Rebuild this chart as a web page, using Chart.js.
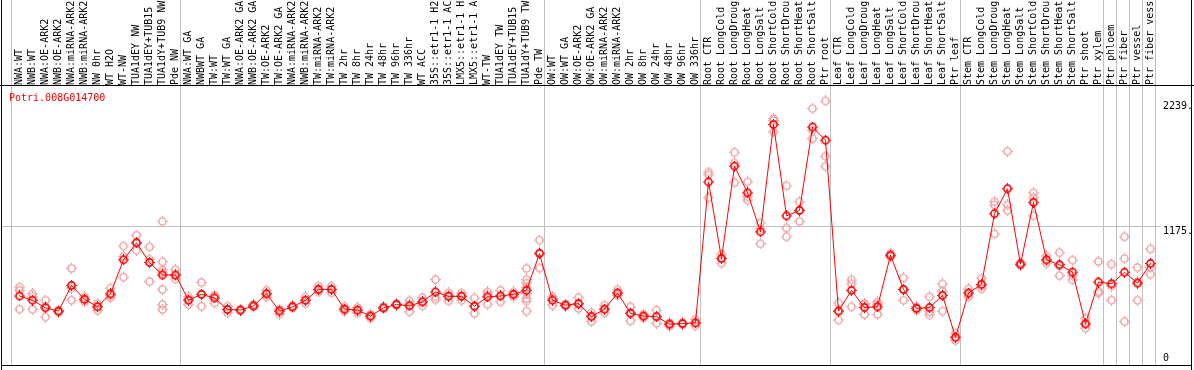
<!DOCTYPE html>
<html>
<head>
<meta charset="utf-8">
<title>Potri.008G014700</title>
<script src="https://cdn.jsdelivr.net/npm/chart.js@4.4.1/dist/chart.umd.min.js"></script>
<style>
  html, body { margin: 0; padding: 0; background: #fff; overflow: hidden; }
  #wrap { width: 1194px; height: 370px; }
</style>
</head>
<body>
<div id="wrap"><canvas id="exprChart" width="1194" height="370"></canvas></div>
<script>
// Sample labels (as printed, cut to 14 characters)
const categories = [
    'NWA:WT', 'NWB:WT', 'NWA:OE-ARK2', 'NWB:OE-ARK2', 'NWA:miRNA-ARK2', 'NWB:miRNA-ARK2',
    'NW 0hr', 'WT H2O', 'WT-NW', 'TUA1dEY NW', 'TUA1dEY+TUB15', 'TUA1dY+TUB9 NW', 'Pde NW',
    'NWA:WT GA', 'NWBWT GA', 'TW:WT', 'TW:WT GA', 'NWA:OE-ARK2 GA', 'NWB:OE-ARK2 GA',
    'TW:OE-ARK2', 'TW:OE-ARK2 GA', 'NWA:miRNA-ARK2', 'NWB:miRNA-ARK2', 'TW:miRNA-ARK2',
    'TW:miRNA-ARK2', 'TW 2hr', 'TW 8hr', 'TW 24hr', 'TW 48hr', 'TW 96hr', 'TW 336hr', 'WT ACC',
    '35S::etr1-1 H2', '35S::etr1-1 AC', 'LMX5::etr1-1 H', 'LMX5::etr1-1 A', 'WT-TW',
    'TUA1dEY TW', 'TUA1dEY+TUB15', 'TUA1dY+TUB9 TW', 'Pde TW',
    'OW:WT', 'OW:WT GA', 'OW:OE-ARK2', 'OW:OE-ARK2 GA', 'OW:miRNA-ARK2', 'OW:miRNA-ARK2',
    'OW 2hr', 'OW 8hr', 'OW 24hr', 'OW 48hr', 'OW 96hr', 'OW 336hr',
    'Root CTR', 'Root LongCold', 'Root LongDroug', 'Root LongHeat', 'Root LongSalt',
    'Root ShortCold', 'Root ShortDrou', 'Root ShortHeat', 'Root ShortSalt', 'Ptr root',
    'Leaf CTR', 'Leaf LongCold', 'Leaf LongDroug', 'Leaf LongHeat', 'Leaf LongSalt',
    'Leaf ShortCold', 'Leaf ShortDrou', 'Leaf ShortHeat', 'Leaf ShortSalt', 'Ptr leaf',
    'Stem CTR', 'Stem LongCold', 'Stem LongDroug', 'Stem LongHeat', 'Stem LongSalt',
    'Stem ShortCold', 'Stem ShortDrou', 'Stem ShortHeat', 'Stem ShortSalt', 'Ptr shoot',
    'Ptr xylem', 'Ptr phloem', 'Ptr fiber', 'Ptr vessel', 'Ptr fiber vess'
];

// Mean expression per sample
const means = [
    579, 543, 478, 450, 669, 551, 487, 598, 887, 1032, 864, 758, 758,
    543, 593, 562, 464, 459, 495, 598, 450, 487, 543, 635, 635, 467, 459, 408, 478, 506,
    495, 529, 613, 576, 576, 492, 571, 579, 593, 627, 940,
    543, 501, 514, 403, 467, 604, 431, 408, 403, 339, 344, 350,
    1550, 898, 1684, 1457, 1125, 2039, 1261, 1307, 2017, 1905,
    450, 627, 481, 487, 926, 635, 473, 480, 584, 228,
    604, 678, 1280, 1492, 850, 1376, 887, 845, 782, 342,
    698, 683, 781, 688, 856
];

// Individual replicates per sample
const reps = [
    [655, 627, 467], [598, 571, 467], [543, 490, 400], [440, 455, 455], [814, 646, 543],
    [571, 551, 530], [514, 490, 457], [646, 585, 565], [1004, 915, 739], [1097, 1032, 968],
    [996, 892, 702], [1214, 870, 800, 780, 635, 506, 464], [803, 750, 724],
    [571, 551, 506], [694, 593, 492], [585, 580, 520], [492, 464, 436], [465, 459, 453],
    [506, 492, 487], [627, 598, 571], [467, 459, 425], [495, 487, 478], [571, 543, 514],
    [663, 630, 613], [663, 635, 607], [487, 467, 450], [482, 459, 436], [425, 408, 392],
    [487, 478, 470], [514, 506, 498], [537, 503, 445], [565, 529, 495], [719, 571, 548],
    [607, 585, 537], [604, 580, 543], [562, 492, 431], [613, 590, 509], [627, 580, 529],
    [613, 593, 573], [814, 719, 688, 650, 598, 557, 535, 450], [1055, 948, 817],
    [571, 557, 501], [510, 501, 492], [565, 505, 473], [436, 412, 361], [501, 467, 436],
    [632, 604, 585], [487, 440, 367], [425, 408, 392], [459, 403, 347], [350, 339, 322],
    [350, 344, 338], [378, 350, 325],
    [1634, 1611, 1416], [934, 898, 859], [1802, 1712, 1544], [1550, 1424, 1396],
    [1200, 1150, 1024], [2090, 2073, 1975], [1517, 1158, 1083], [1382, 1310, 1214],
    [2174, 1990, 1919], [2239, 1768, 1684],
    [520, 455, 375], [716, 682, 487], [515, 505, 422], [529, 510, 422], [943, 920, 915],
    [733, 630, 543], [487, 473, 459], [571, 445, 418], [682, 621, 450], [263, 227, 201],
    [640, 604, 571], [730, 665, 640], [1382, 1354, 1108], [1810, 1354, 1307], [864, 845, 840],
    [1457, 1416, 1261], [920, 880, 859], [948, 835, 752], [884, 752, 716], [389, 341, 305],
    [873, 619, 604], [850, 663, 543], [1083, 898, 361], [822, 700, 543], [979, 822, 766]
];

// Where each sample group starts (last entry closes the final group)
const groupStarts = [0, 13, 41, 53, 63, 73, 84, 85, 86, 87, 88];

// Right-hand value labels and the reference line
const axisValues = [0, 1175, 2239];
const axisLabels = ['0', '1175.', '2239.'];
const refLine = 1175;
const geneId = 'Potri.008G014700';

const FONT = '10px "DejaVu Sans Mono"';

// small ring marker with four tiny ticks
function makeMarker(color, width) {
    const c = document.createElement('canvas');
    c.width = 11;
    c.height = 11;
    const g = c.getContext('2d');
    g.strokeStyle = color;
    g.lineWidth = width;
    g.beginPath();
    g.arc(5.5, 5.5, 3.6, 0, Math.PI * 2);
    g.stroke();
    g.fillStyle = color;
    g.fillRect(5, 0, 1, 1);
    g.fillRect(5, 10, 1, 1);
    g.fillRect(0, 5, 1, 1);
    g.fillRect(10, 5, 1, 1);
    return c;
}

const frame = {
    id: 'frame',
    beforeDraw(chart) {
        const { ctx, chartArea, scales } = chart;
        const x = scales.x, y = scales.y;
        ctx.save();
        ctx.fillStyle = '#c0c0c0';
        groupStarts.forEach(function(b) {
            const px = Math.floor(x.getPixelForValue(b - 0.5) - 2);
            ctx.fillRect(px, 0, 1, chartArea.bottom + 1);
        });
        ctx.fillRect(2, Math.round(y.getPixelForValue(refLine)), chartArea.right + 3 - 2, 1);
        ctx.fillStyle = '#000';
        ctx.fillRect(1, 0, 1, 370);
        ctx.fillRect(1191, 0, 1, 370);
        ctx.fillRect(0, Math.round(chartArea.top), 1194, 1);
        ctx.fillRect(1, Math.round(chartArea.bottom) + 1, 1191, 1);
        ctx.restore();
    },
    afterDraw(chart) {
        const { ctx, chartArea, scales } = chart;
        const y = scales.y;
        ctx.save();
        ctx.font = FONT;
        ctx.textBaseline = 'alphabetic';
        ctx.textAlign = 'left';
        ctx.fillStyle = '#ff0000';
        ctx.fillText(geneId, 9, chartArea.top + 16);
        ctx.fillStyle = '#000';
        axisValues.forEach(function(v, i) {
            const py = y.getPixelForValue(v);
            ctx.fillText(axisLabels[i], chartArea.right + 6, v === 0 ? py - 3 : py + 8);
        });
        ctx.restore();
    }
};

document.addEventListener('DOMContentLoaded', function() {
    const meanPoints = means.map((v, i) => ({ x: i, y: v }));
    const repPoints = [];
    reps.forEach((r, i) => r.forEach(v => repPoints.push({ x: i, y: v })));

    const ctx = document.getElementById('exprChart').getContext('2d');
    new Chart(ctx, {
        type: 'scatter',
        data: {
            datasets: [{
                label: 'Mean',
                data: meanPoints,
                showLine: true,
                borderColor: '#ff0000',
                borderWidth: 1,
                tension: 0,
                pointStyle: makeMarker('#ff0000', 1.6),
                pointRadius: 5,
                pointHoverRadius: 5
            }, {
                label: 'Replicates',
                data: repPoints,
                showLine: false,
                pointStyle: makeMarker('#f09a9a', 1.4),
                pointRadius: 5,
                pointHoverRadius: 5
            }]
        },
        options: {
            responsive: false,
            maintainAspectRatio: false,
            animation: false,
            events: [],
            layout: {
                padding: { left: 13, right: 37, top: 0, bottom: 2 }
            },
            plugins: {
                legend: { display: false },
                tooltip: { enabled: false }
            },
            scales: {
                x: {
                    type: 'linear',
                    position: 'top',
                    min: -0.5,
                    max: categories.length - 0.5,
                    grid: { display: false, drawTicks: false },
                    border: { display: false },
                    afterBuildTicks: function(scale) {
                        scale.ticks = categories.map((c, i) => ({ value: i }));
                    },
                    afterFit: function(scale) {
                        scale.height = 85;
                    },
                    ticks: {
                        autoSkip: false,
                        minRotation: 90,
                        maxRotation: 90,
                        padding: 0,
                        labelOffset: 12,
                        color: '#000',
                        font: { family: 'DejaVu Sans Mono', size: 10 },
                        callback: function(value) {
                            return categories[value];
                        }
                    }
                },
                y: {
                    display: false,
                    min: 0,
                    max: 2375
                }
            }
        },
        plugins: [frame]
    });
});
</script>
</body>
</html>
